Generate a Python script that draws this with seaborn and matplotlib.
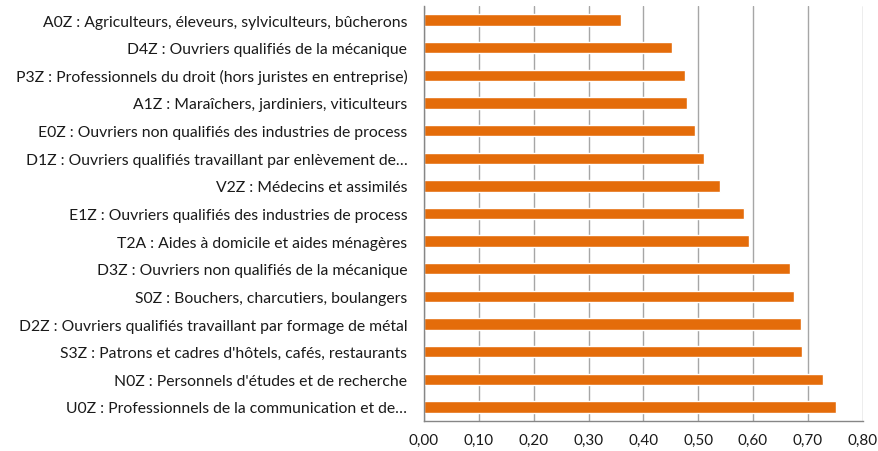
import numpy as np
import pandas as pd
import matplotlib
matplotlib.use("Agg")
import matplotlib.pyplot as plt
from matplotlib.ticker import FuncFormatter, FixedLocator
import seaborn as sns

# categories, top to bottom as they appear on the chart
categories = [
    "A0Z : Agriculteurs, éleveurs, sylviculteurs, bûcherons",
    "D4Z : Ouvriers qualifiés de la mécanique",
    "P3Z : Professionnels du droit (hors juristes en entreprise)",
    "A1Z : Maraîchers, jardiniers, viticulteurs",
    "E0Z : Ouvriers non qualifiés des industries de process",
    "D1Z : Ouvriers qualifiés travaillant par enlèvement de…",
    "V2Z : Médecins et assimilés",
    "E1Z : Ouvriers qualifiés des industries de process",
    "T2A : Aides à domicile et aides ménagères",
    "D3Z : Ouvriers non qualifiés de la mécanique",
    "S0Z : Bouchers, charcutiers, boulangers",
    "D2Z : Ouvriers qualifiés travaillant par formage de métal",
    "S3Z : Patrons et cadres d'hôtels, cafés, restaurants",
    "N0Z : Personnels d'études et de recherche",
    "U0Z : Professionnels de la communication et de…",
]
values = [0.360, 0.453, 0.476, 0.479, 0.494, 0.511, 0.539, 0.584,
          0.593, 0.667, 0.674, 0.688, 0.690, 0.727, 0.752]
x_ticks = [0.0, 0.1, 0.2, 0.3, 0.4, 0.5, 0.6, 0.7, 0.8]

df = pd.DataFrame({"metier": categories, "valeur": values})

sns.set_style("white")
plt.rcParams["font.family"] = ["Lato", "DejaVu Sans"]

fig = plt.figure(figsize=(8.79, 4.52), dpi=100)
ax = fig.add_axes([0.4824, 0.067, 0.4990, 0.917])

sns.barplot(data=df, x="valeur", y="metier", orient="h", color="#E46C0A",
            saturation=1, width=0.41, ax=ax)

ax.set_xlim(0, 0.8)
ax.set_ylim(len(categories) - 0.5, -0.5)
ax.xaxis.set_major_locator(FixedLocator(x_ticks))
ax.xaxis.set_major_formatter(FuncFormatter(lambda v, p: f"{v:.2f}".replace(".", ",")))
ax.set_xlabel("")
ax.set_ylabel("")

# grid lines and axes in Excel-like grey
ax.set_axisbelow(True)
ax.grid(axis="x", color="#A6A6A6", linewidth=1.0)
ax.grid(axis="y", visible=False)
for side in ["top", "right"]:
    ax.spines[side].set_visible(False)
for side in ["left", "bottom"]:
    ax.spines[side].set_color("#868686")
    ax.spines[side].set_linewidth(1.0)

# y ticks at category boundaries, labels centred on bars
ax.set_yticks(np.arange(-0.5, len(categories), 1.0), minor=True)
ax.tick_params(axis="y", which="major", length=0, pad=12, labelsize=11.3, labelcolor="#1a1a1a")
ax.tick_params(axis="y", which="minor", length=5, color="#868686", direction="out")
ax.tick_params(axis="x", which="major", length=5, color="#868686", direction="out",
               labelsize=11, labelcolor="#1a1a1a", pad=4)

plt.savefig("out.png", dpi=100)
plt.close()
